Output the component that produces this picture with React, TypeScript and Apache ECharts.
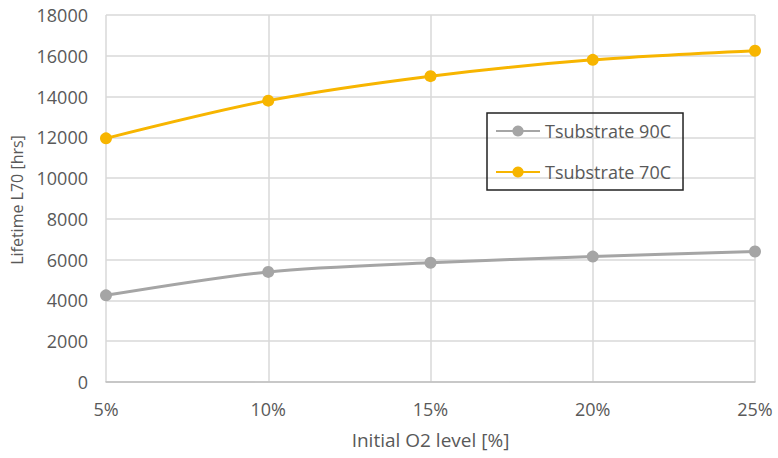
import React, { useEffect, useRef } from "react";
import * as echarts from "echarts";

const categories = ["5%", "10%", "15%", "20%", "25%"];
const series90 = [4250, 5400, 5850, 6150, 6400];
const series70 = [11950, 13800, 15000, 15800, 16250];
const seriesNames = ["Tsubstrate 90C", "Tsubstrate 70C"];
const yAxisName = "Lifetime L70 [hrs]";
const xAxisName = "Initial O2 level [%]";

const FONT = "'Open Sans', 'Noto Sans', sans-serif";
const TEXT = "#595959";

export default function App() {
  const ref = useRef<HTMLDivElement>(null);
  useEffect(() => {
    if (!ref.current) return;
    const chart = echarts.init(ref.current, null, { renderer: "svg" });
    chart.setOption({
      animation: false,
      backgroundColor: "#ffffff",
      textStyle: { fontFamily: FONT },
      grid: { left: 106, right: 23, top: 15, bottom: 76 },
      graphic: [
        {
          type: "text",
          x: 17,
          y: 200,
          rotation: Math.PI / 2,
          style: {
            text: yAxisName,
            fontFamily: FONT,
            fontSize: 16,
            fill: TEXT,
            align: "center",
            verticalAlign: "middle",
          },
        },
      ],
      legend: {
        orient: "vertical",
        left: 487,
        top: 113,
        padding: [9, 12, 9, 8],
        itemGap: 23,
        itemWidth: 44,
        itemHeight: 14,
        borderColor: "#222",
        borderWidth: 1.5,
        textStyle: { fontFamily: FONT, fontSize: 18, color: TEXT },
        data: seriesNames,
      },
      xAxis: {
        type: "category",
        data: categories,
        boundaryGap: false,
        name: xAxisName,
        nameLocation: "middle",
        nameGap: 48,
        nameTextStyle: { fontFamily: FONT, fontSize: 19, color: TEXT },
        axisLine: { lineStyle: { color: "#bfbfbf", width: 1.5 } },
        axisTick: { show: false },
        axisLabel: { fontFamily: FONT, fontSize: 18, color: TEXT, margin: 18 },
        splitLine: { show: true, lineStyle: { color: "#d9d9d9", width: 1.5 } },
      },
      yAxis: {
        type: "value",
        min: 0,
        max: 18000,
        interval: 2000,
        axisLine: { show: false },
        axisTick: { show: false },
        axisLabel: {
          fontFamily: FONT,
          fontSize: 18,
          color: TEXT,
          margin: 18,
          formatter: (v: number) => String(v),
        },
        splitLine: { lineStyle: { color: "#d9d9d9", width: 1.5 } },
      },
      series: [
        {
          name: seriesNames[0],
          type: "line",
          data: series90,
          smooth: 0.3,
          symbol: "circle",
          symbolSize: 12,
          color: "#a5a5a5",
          lineStyle: { width: 3, color: "#a5a5a5" },
          itemStyle: { color: "#a5a5a5" },
        },
        {
          name: seriesNames[1],
          type: "line",
          data: series70,
          smooth: 0.3,
          symbol: "circle",
          symbolSize: 12,
          color: "#f7b500",
          lineStyle: { width: 3, color: "#f7b500" },
          itemStyle: { color: "#f7b500" },
        },
      ],
    });
    return () => chart.dispose();
  }, []);
  return (
    <div
      ref={ref}
      style={{ position: "fixed", left: 0, top: 0, width: 778, height: 458 }}
    />
  );
}
